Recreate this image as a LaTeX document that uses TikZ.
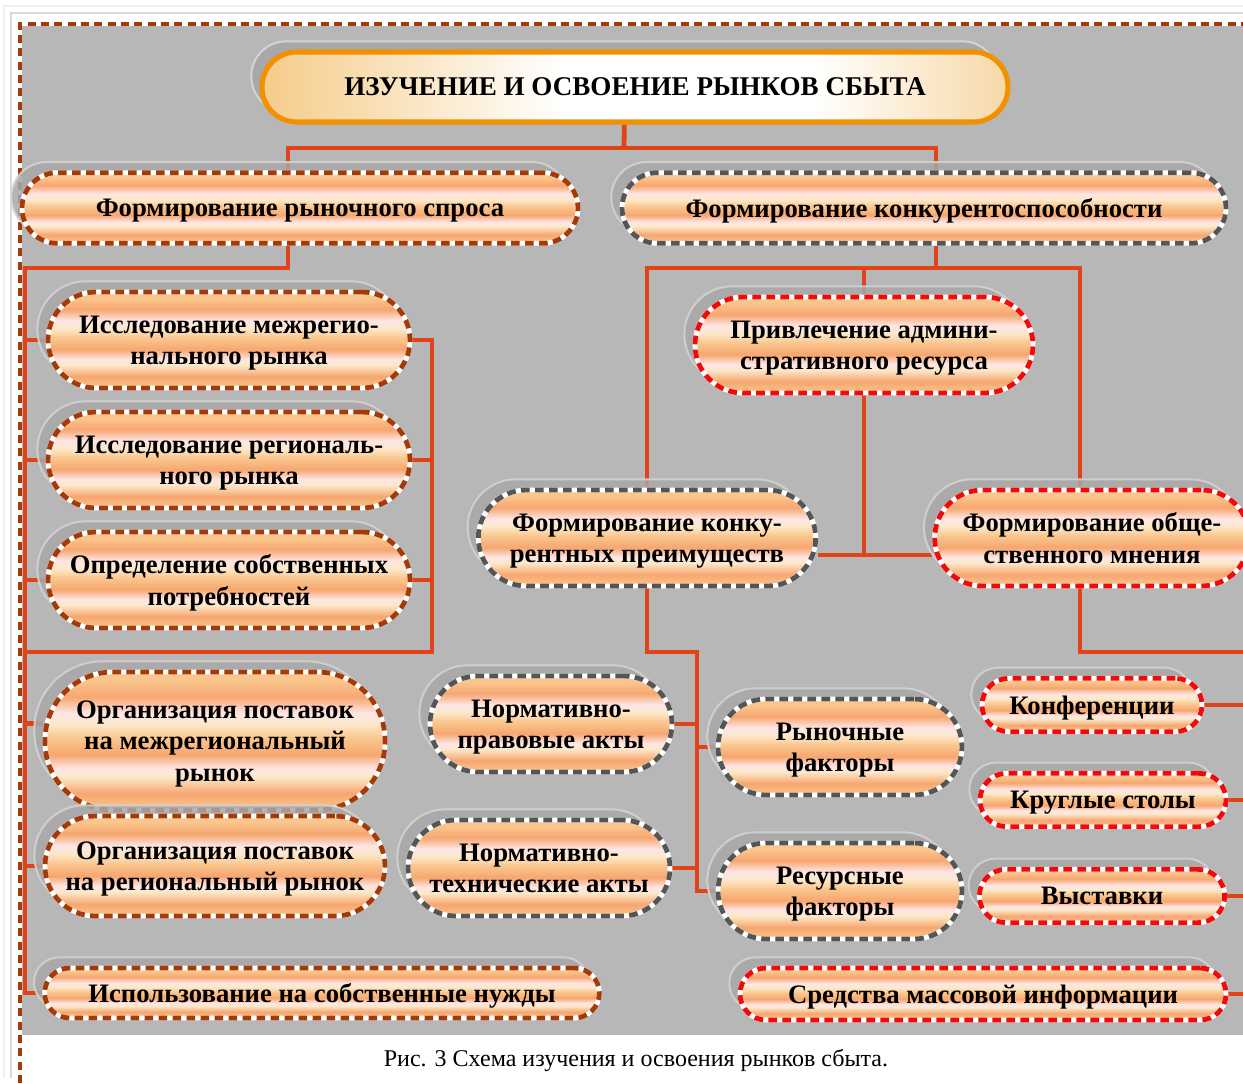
\documentclass[tikz,border=0pt]{standalone}
\usepackage{fontspec}
\setmainfont{Liberation Serif}
\usetikzlibrary{shadows, backgrounds, calc}
\definecolor{panelgray}{RGB}{183, 183, 183}
\definecolor{shadowgray}{RGB}{168, 168, 168}
\definecolor{shadowline}{RGB}{212, 212, 212}
\definecolor{linkred}{RGB}{222, 68, 24}
\definecolor{titleorange}{RGB}{242, 145, 0}
\definecolor{titlecream}{RGB}{245, 204, 138}
\definecolor{brownline}{RGB}{163, 58, 8}
\definecolor{grayline}{RGB}{85, 85, 85}
\definecolor{redline}{RGB}{240, 10, 10}
\definecolor{stripeor}{RGB}{247, 166, 112}
\definecolor{stripelt}{RGB}{250, 198, 142}
\definecolor{stripepk}{RGB}{253, 230, 230}
\definecolor{stripecr}{RGB}{252, 232, 200}
\pgfdeclareverticalshading{stripes}{100bp}{color(0bp)=(stripelt); color(25bp)=(stripelt); color(31bp)=(stripeor); color(37bp)=(stripecr); color(40bp)=(stripepk); color(45bp)=(stripeor); color(51bp)=(stripelt); color(56bp)=(stripecr); color(60bp)=(stripepk); color(66bp)=(stripeor); color(72bp)=(stripelt); color(75bp)=(stripelt); color(100bp)=(stripelt)}
\pgfdeclarehorizontalshading{titleshade}{100bp}{color(0bp)=(titlecream); color(25bp)=(titlecream); color(45bp)=(white); color(62bp)=(white); color(75bp)=(titlecream!75); color(100bp)=(titlecream!75)}
\tikzstyle{pill} = [rectangle, shading=stripes, align=center, inner sep=0pt, text depth=0pt, font=\fontsize{20}{23.5}\selectfont\bfseries, draw=white, line width=3.6pt, general shadow={shadow xshift=-8pt, shadow yshift=8pt, fill=shadowgray, draw=shadowline, line width=1.5pt, opacity=0.85}]
\tikzstyle{brownpill} = [pill, postaction={draw=brownline, line width=3.6pt, dash pattern=on 6.5pt off 4pt}]
\tikzstyle{graypill} = [pill, postaction={draw=grayline, line width=3.6pt, dash pattern=on 6.5pt off 4pt}]
\tikzstyle{redpill} = [pill, postaction={draw=redline, line width=3.6pt, dash pattern=on 6.5pt off 4pt}]
\tikzstyle{onerow} = [minimum height=53pt, rounded corners=26.5pt]
\tikzstyle{tworow} = [minimum height=72pt, rounded corners=36pt]
\tikzstyle{lowrow} = [minimum height=40pt, rounded corners=20pt]
\tikzstyle{titlebox} = [rectangle, rounded corners=26pt, minimum height=52.5pt, shading=titleshade, draw=titleorange, line width=3.8pt, font=\fontsize{20.3}{24}\selectfont\bfseries, general shadow={shadow xshift=-8pt, shadow yshift=8pt, fill=shadowgray, draw=shadowline, line width=1.5pt}]
\tikzstyle{link} = [draw=linkred, line width=3.6pt]

\begin{document}
\begin{tikzpicture}[x=0.75pt, y=-0.75pt]
\useasboundingbox (0,0) rectangle (1243,1083);

\begin{scope}[on background layer]
\fill [white] (0,0) rectangle (1243,1083);
\fill [panelgray] (22,25) rectangle (1243,1035);
\draw [gray!12, line width=1pt] (4,1078) -- (4,6) -- (1243,6);
\draw [gray!30, line width=1.5pt] (11,1078) -- (11,13) -- (1243,13);
\draw [white, line width=3pt] (20,1083) -- (20,24) -- (1243,24);
\draw [brownline, line width=3pt, dash pattern=on 6pt off 4pt] (20,1083) -- (20,24) -- (1243,24);
\end{scope}

\node (title) [titlebox, minimum width=559.5pt] at (635,87) {ИЗУЧЕНИЕ И ОСВОЕНИЕ РЫНКОВ СБЫТА};
\node (spros) [brownpill, onerow, minimum width=417pt] at (300,208) {Формирование рыночного спроса};
\node (konk) [graypill, onerow, minimum width=453pt] at (924,208) {Формирование конкурентоспособности};
\node (a1) [brownpill, tworow, minimum width=271.5pt] at (229,340) {Исследование межрегио-\\нального рынка};
\node (a2) [brownpill, tworow, minimum width=271.5pt] at (229,460) {Исследование региональ-\\ного рынка};
\node (a3) [brownpill, tworow, minimum width=271.5pt] at (229,580) {Определение собственных\\потребностей};
\node (privl) [redpill, tworow, minimum width=253.5pt] at (864,345) {Привлечение админи-\\стративного ресурса};
\node (prem) [graypill, tworow, minimum width=253pt] at (647,538) {Формирование конку-\\рентных преимуществ};
\node (obs) [redpill, tworow, minimum width=236pt] at (1092,538) {Формирование обще-\\ственного мнения};
\node (b1) [brownpill, minimum width=255pt, minimum height=103.5pt, rounded corners=51pt] at (215,741) {Организация поставок\\на межрегиональный\\рынок};
\node (b2) [brownpill, minimum width=255pt, minimum height=75pt, rounded corners=37.5pt] at (215,866) {Организация поставок\\на региональный рынок};
\node (isp) [brownpill, lowrow, minimum width=416pt, minimum height=37.5pt, rounded corners=18.75pt] at (322,993) {Использование на собственные нужды};
\node (npa) [graypill, tworow, minimum width=181.5pt] at (551,724) {Нормативно-\\правовые акты};
\node (nta) [graypill, tworow, minimum width=196.5pt] at (539,868) {Нормативно-\\технические акты};
\node (ryn) [graypill, tworow, minimum width=183pt] at (840,747) {Рыночные\\факторы};
\node (res) [graypill, tworow, minimum width=183pt] at (840,891) {Ресурсные\\факторы};
\node (konf) [redpill, lowrow, minimum width=165pt] at (1092,705) {Конференции};
\node (krug) [redpill, lowrow, minimum width=184.5pt] at (1103,800) {Круглые столы};
\node (vyst) [redpill, lowrow, minimum width=184pt] at (1102,896) {Выставки};
\node (smi) [redpill, lowrow, minimum width=364.5pt, minimum height=39pt, rounded corners=19.5pt] at (983,994) {Средства массовой информации};
\node (caption) [font=\fontsize{18}{22}\selectfont] at (636,1060) {Рис. 3 Схема изучения и освоения рынков сбыта.};

% Links
\begin{scope}[on background layer]
\coordinate (top) at (624,148);
\coordinate (lt) at (25,268);
\coordinate (ab) at (432,652);
\coordinate (kt) at (1080,268);
\coordinate (pm) at (864,555);
\coordinate (nb) at (697,652);
\coordinate (rb) at (1262,652);
\coordinate (b1t) at ([yshift=13pt]b1.west);
\draw [link] ([xshift=-8pt]title.south) -- (top);
\draw [link] ([xshift=-9pt]spros.north) |- (top) -| ([xshift=9pt]konk.north);
\draw [link] ([xshift=-9pt]spros.south) |- (lt) |- (isp.west);
\draw [link] (lt |- a1.west) -- (a1.west);
\draw [link] (lt |- a2.west) -- (a2.west);
\draw [link] (lt |- a3.west) -- (a3.west);
\draw [link] (lt |- b1t) -- (b1t);
\draw [link] (lt |- b2.west) -- (b2.west);
\draw [link] (a1.east) -| (ab) -- (ab -| lt);
\draw [link] (a2.east) -- (a2.east -| ab);
\draw [link] (a3.east) -- (a3.east -| ab);
\draw [link] ([xshift=9pt]konk.south) |- (kt);
\draw [link] (prem.north) |- (kt) -- (kt |- obs.north);
\draw [link] (privl.north) -- (privl.north |- kt);
\draw [link] (privl.south) -- (pm);
\draw [link] (prem.east |- pm) -- (obs.west |- pm);
\draw [link] (prem.south) |- (nb) |- (res.west);
\draw [link] (npa.east) -- (npa.east -| nb);
\draw [link] (nta.east) -- (nta.east -| nb);
\draw [link] (ryn.west) -- (ryn.west -| nb);
\draw [link] (kt |- obs.south) |- (rb) |- (smi.east);
\draw [link] (konf.east) -- (konf.east -| rb);
\draw [link] (krug.east) -- (krug.east -| rb);
\draw [link] (vyst.east) -- (vyst.east -| rb);
\end{scope}

\end{tikzpicture}
\end{document}
